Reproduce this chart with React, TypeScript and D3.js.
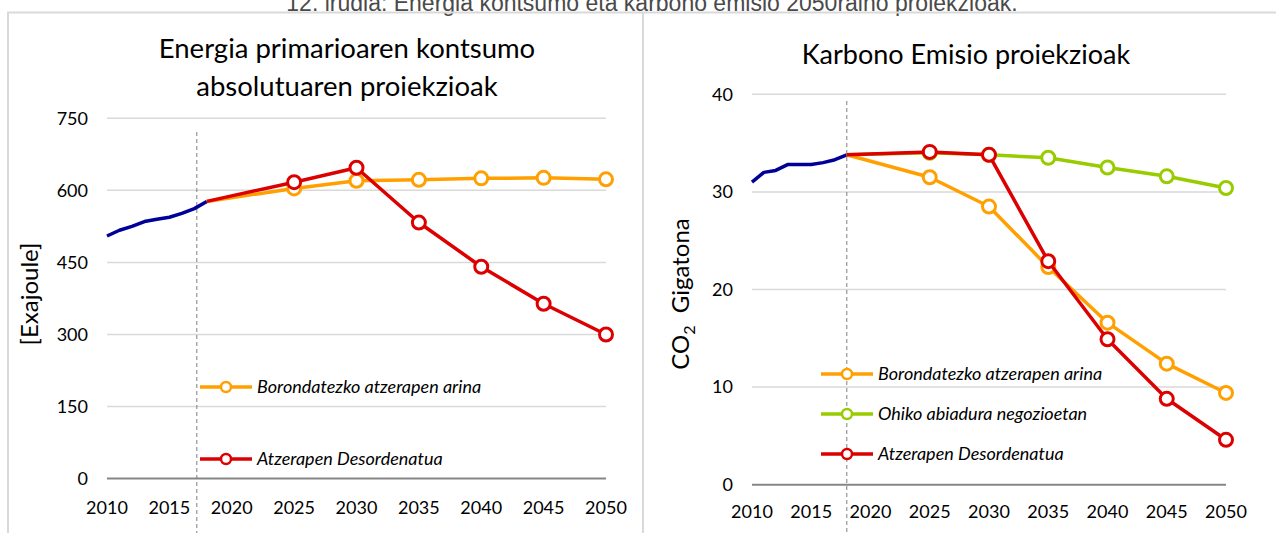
import React from "react";
import * as d3 from "d3";

const W = 1276;
const H = 533;
const FONT = "Lato, 'Open Sans', sans-serif";

// data
const HIST_YEARS = [2010, 2011, 2012, 2013, 2014, 2015, 2016, 2017, 2018];
const PROJ_YEARS = [2018, 2025, 2030, 2035, 2040, 2045, 2050];
const X_TICKS = [2010, 2015, 2020, 2025, 2030, 2035, 2040, 2045, 2050];

const ENERGY_TICKS = [0, 150, 300, 450, 600, 750];
const ENERGY_HIST = [505, 517, 525, 535, 540, 544, 552, 562, 577];
const ENERGY_ARINA = [577, 604, 620, 622, 625, 626, 623];
const ENERGY_DESORDENATUA = [577, 617, 647, 533, 441, 364, 300];

const CO2_TICKS = [0, 10, 20, 30, 40];
const CO2_HIST = [31.0, 32.0, 32.2, 32.8, 32.8, 32.8, 33.0, 33.3, 33.8];
const CO2_ARINA = [33.8, 31.5, 28.5, 22.3, 16.6, 12.4, 9.4];
const CO2_OHIKO = [33.8, 34.0, 33.8, 33.5, 32.5, 31.6, 30.4];
const CO2_DESORDENATUA = [33.8, 34.1, 33.8, 22.9, 14.9, 8.8, 4.6];

const LABEL_ARINA = "Borondatezko atzerapen arina";
const LABEL_OHIKO = "Ohiko abiadura negozioetan";
const LABEL_DESORDENATUA = "Atzerapen Desordenatua";

const CAPTION = "12. irudia: Energia kontsumo eta karbono emisio 2050raino proiekzioak.";

const C_HIST = "#000099";
const C_ARINA = "#FFA000";
const C_OHIKO = "#99CC00";
const C_DESORD = "#DD0000";
const C_GRID = "#d9d9d9";

type Series = { name: string; color: string; values: number[]; legendY?: number };

type PanelProps = {
  xRange: [number, number];
  yRange: [number, number];
  yDomain: [number, number];
  yTicks: number[];
  titleLines: string[];
  titleX: number;
  titleY: number;
  titleSize: number;
  yLabel: React.ReactNode;
  yLabelX: number;
  yLabelY: number;
  yLabelSize: number;
  hist: number[];
  series: Series[];
  dividerYear: number;
  dividerTop: number;
  xLabelY: number;
  legendX: number;
};

const Panel = (p: PanelProps) => {
  const x = d3.scaleLinear().domain([2010, 2050]).range(p.xRange);
  const y = d3.scaleLinear().domain(p.yDomain).range(p.yRange);

  const histLine = d3
    .line<number>()
    .x((_, i) => x(HIST_YEARS[i]))
    .y((d) => y(d));
  const projLine = d3
    .line<number>()
    .x((_, i) => x(PROJ_YEARS[i]))
    .y((d) => y(d));

  return (
    <g fontFamily={FONT}>
      {p.titleLines.map((t, i) => (
        <text key={t} x={p.titleX} y={p.titleY + i * 38} textAnchor="middle" fontSize={p.titleSize} fill="#000">
          {t}
        </text>
      ))}

      {/* grid + y ticks */}
      {p.yTicks.map((t) => (
        <g key={t}>
          <line
            x1={p.xRange[0]}
            x2={p.xRange[1]}
            y1={y(t)}
            y2={y(t)}
            stroke={t === 0 ? "#868686" : C_GRID}
            strokeWidth={t === 0 ? 2 : 1.5}
          />
          <text x={p.xRange[0] - 19} y={y(t)} dy="0.35em" textAnchor="end" fontSize={18} fill="#000">
            {t}
          </text>
        </g>
      ))}

      {X_TICKS.map((t) => (
        <text key={t} x={x(t)} y={p.xLabelY} dy="0.35em" textAnchor="middle" fontSize={18} fill="#000">
          {t}
        </text>
      ))}

      <text
        transform={`translate(${p.yLabelX},${p.yLabelY}) rotate(-90)`}
        textAnchor="middle"
        dy="0.35em"
        fontSize={p.yLabelSize}
        fill="#000"
      >
        {p.yLabel}
      </text>

      <line
        x1={x(p.dividerYear)}
        x2={x(p.dividerYear)}
        y1={p.dividerTop}
        y2={H}
        stroke="#7f7f7f"
        strokeWidth={1}
        strokeDasharray="4 3"
      />

      <path d={histLine(p.hist) ?? ""} fill="none" stroke={C_HIST} strokeWidth={3.5} strokeLinejoin="round" />

      {p.series.map((s) => (
        <g key={s.name}>
          <path d={projLine(s.values) ?? ""} fill="none" stroke={s.color} strokeWidth={3.5} strokeLinejoin="round" />
          {s.values.slice(1).map((v, i) => (
            <circle key={i} cx={x(PROJ_YEARS[i + 1])} cy={y(v)} r={6.5} fill="#fff" stroke={s.color} strokeWidth={3} />
          ))}
        </g>
      ))}

      {/* legend */}
      {p.series
        .filter((s) => s.legendY !== undefined)
        .map((s) => (
          <g key={s.name} transform={`translate(${p.legendX},${s.legendY})`}>
            <line x1={0} x2={52} y1={0} y2={0} stroke={s.color} strokeWidth={3.5} />
            <circle cx={26} cy={0} r={5} fill="#fff" stroke={s.color} strokeWidth={2.5} />
            <text x={57} y={0} dy="0.35em" fontSize={18} fontStyle="italic" fill="#000">
              {s.name}
            </text>
          </g>
        ))}
    </g>
  );
};

export default function App() {
  return (
    <svg
      width={W}
      height={H}
      style={{ position: "absolute", left: 0, top: 0, background: "#fff", display: "block" }}
    >
      <rect width={W} height={H} fill="#fff" />
      <text x={652} y={11} textAnchor="middle" fontSize={23} fontFamily="'Liberation Sans', Arial, sans-serif" fill="#4a4a4a">
        {CAPTION}
      </text>
      <line x1={7} x2={W} y1={12.5} y2={12.5} stroke={C_GRID} strokeWidth={2} />
      <line x1={8} x2={8} y1={12} y2={H} stroke={C_GRID} strokeWidth={2} />
      <line x1={643} x2={643} y1={12} y2={H} stroke={C_GRID} strokeWidth={2} />

      <Panel
        xRange={[107, 606]}
        yRange={[478.6, 118.3]}
        yDomain={[0, 750]}
        yTicks={ENERGY_TICKS}
        titleLines={["Energia primarioaren kontsumo", "absolutuaren proiekzioak"]}
        titleX={347}
        titleY={58}
        titleSize={27.5}
        yLabel="[Exajoule]"
        yLabelX={30}
        yLabelY={294}
        yLabelSize={24}
        hist={ENERGY_HIST}
        series={[
          { name: LABEL_ARINA, color: C_ARINA, values: ENERGY_ARINA, legendY: 387 },
          { name: LABEL_DESORDENATUA, color: C_DESORD, values: ENERGY_DESORDENATUA, legendY: 459 },
        ]}
        dividerYear={2017.2}
        dividerTop={132}
        xLabelY={508}
        legendX={200}
      />

      <Panel
        xRange={[752, 1226]}
        yRange={[484.7, 94.3]}
        yDomain={[0, 40]}
        yTicks={CO2_TICKS}
        titleLines={["Karbono Emisio proiekzioak"]}
        titleX={966}
        titleY={64}
        titleSize={27}
        yLabel={
          <>
            <tspan>CO</tspan>
            <tspan dy={6} fontSize={16}>2</tspan>
            <tspan dy={-6}>{"\u00a0\u00a0Gigatona"}</tspan>
          </>
        }
        yLabelX={681}
        yLabelY={294}
        yLabelSize={24}
        hist={CO2_HIST}
        series={[
          { name: LABEL_OHIKO, color: C_OHIKO, values: CO2_OHIKO, legendY: 414 },
          { name: LABEL_ARINA, color: C_ARINA, values: CO2_ARINA, legendY: 374 },
          { name: LABEL_DESORDENATUA, color: C_DESORD, values: CO2_DESORDENATUA, legendY: 454 },
        ]}
        dividerYear={2018}
        dividerTop={101}
        xLabelY={512}
        legendX={821}
      />
    </svg>
  );
}
